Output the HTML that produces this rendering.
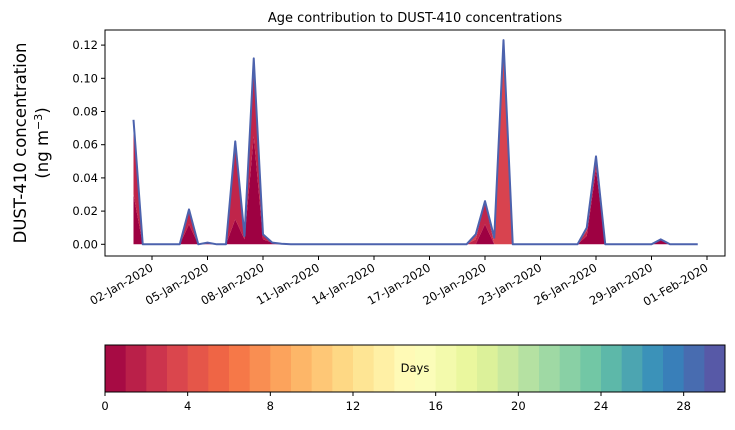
<!DOCTYPE html>
<html><head><meta charset="utf-8"><style>
body{margin:0;background:#fff;}
svg text{font-family:"DejaVu Sans","Liberation Sans",sans-serif;fill:#000;}
</style></head><body>
<svg id="chart" width="735" height="425" xmlns="http://www.w3.org/2000/svg">
<text x="415" y="22" font-size="13" text-anchor="middle">Age contribution to DUST-410 concentrations</text>
<text transform="translate(26,143) rotate(-90)" font-size="16.5" text-anchor="middle">DUST-410 concentration</text>
<text transform="translate(48,143) rotate(-90)" font-size="16.5" text-anchor="middle">(ng m<tspan dy="-6" font-size="11">−3</tspan><tspan dy="6">)</tspan></text>
<g id="plot"></g>
<g id="cbar"></g>
</svg>
<script>
// data: 12-hourly from 01-Jan-2020 00:00 (index i => day i*0.5)
const N = 62;
const age0Idx = [0,6,8,11,12,13,14,15,16,38,49,50,57];
const age0Val = [0.03,0.012,0.001,0.015,0.003,0.065,0.003,0.001,0.0003,0.012,0.005,0.045,0.003];
const age1Idx = [0,6,11,12,13,14,37,38,49,50];
const age1Val = [0.045,0.009,0.047,0.002,0.047,0.003,0.003,0.014,0.003,0.008];
const age2Idx = [37,39,40,49];
const age2Val = [0.003,0.004,0.123,0.002];
const yTicks = [0,0.02,0.04,0.06,0.08,0.10,0.12];
const yTickLabels = ["0.00","0.02","0.04","0.06","0.08","0.10","0.12"];
const xTickDays = [1,4,7,10,13,16,19,22,25,28,31];
const xTickLabels = ["02-Jan-2020","05-Jan-2020","08-Jan-2020","11-Jan-2020","14-Jan-2020","17-Jan-2020","20-Jan-2020","23-Jan-2020","26-Jan-2020","29-Jan-2020","01-Feb-2020"];
const cbTicks = [0,4,8,12,16,20,24,28];

const NS="http://www.w3.org/2000/svg";
const L=105,R=725,T=30,B=256;
const xS=d=>133.5+18.5*d;
const yS=v=>244.3-v*(244.3-45.1)/0.12;
function mk(tag,attrs,parent){const e=document.createElementNS(NS,tag);for(const k in attrs)e.setAttribute(k,attrs[k]);parent.appendChild(e);return e;}
const plot=document.getElementById('plot');
function series(idx,val){const a=new Array(N).fill(0);idx.forEach((k,j)=>a[k]=val[j]);return a;}
const layers=[series(age0Idx,age0Val),series(age1Idx,age1Val),series(age2Idx,age2Val)];
const colors=["#9e0142","#c0254a","#d8434f"];
let base=new Array(N).fill(0);
layers.forEach((ly,li)=>{
  const top=base.map((b,i)=>b+ly[i]);
  let d="";
  for(let i=0;i<N;i++)d+=(i?"L":"M")+xS(i*0.5)+","+yS(top[i]);
  for(let i=N-1;i>=0;i--)d+="L"+xS(i*0.5)+","+yS(base[i]);
  const p=mk('path',{d:d+"Z",fill:colors[li],stroke:"none"},plot);
  
  
  base=top;
});
let ld="";
for(let i=0;i<N;i++)ld+=(i?"L":"M")+xS(i*0.5)+","+yS(base[i]);
const line=mk('path',{d:ld,fill:"none",stroke:"#4c62ad","stroke-width":2,"stroke-linejoin":"round"},plot);


const frame=mk('rect',{x:L,y:T,width:R-L,height:B-T,fill:"none",stroke:"#000","stroke-width":1},plot);


yTicks.forEach((v,k)=>{
  const y=yS(v);
  mk('line',{x1:L-4,x2:L,y1:y,y2:y,stroke:"#000"},plot);
  const t=mk('text',{x:L-7,y:y+4,"font-size":11.5,"text-anchor":"end"},plot);
  t.textContent=yTickLabels[k];
  
  
});
xTickDays.forEach((d,k)=>{
  const x=xS(d);
  mk('line',{x1:x,x2:x,y1:B,y2:B+4,stroke:"#000"},plot);
  const t=mk('text',{transform:`translate(${x+2},${B+14}) rotate(-30)`,"font-size":11.5,"text-anchor":"end"},plot);
  t.textContent=xTickLabels[k];
  
  
});
// colorbar
const cb=document.getElementById('cbar');
const sp=["#9e0142","#d53e4f","#f46d43","#fdae61","#fee08b","#ffffbf","#e6f598","#abdda4","#66c2a5","#3288bd","#5e4fa2"];
function hex(h){return[1,3,5].map(i=>parseInt(h.substr(i,2),16));}
function cmap(f){const p=f*10,i=Math.min(9,Math.floor(p)),r=p-i;const a=hex(sp[i]),b=hex(sp[i+1]);return"rgb("+a.map((v,j)=>Math.round(v+(b[j]-v)*r)).join(",")+")";}
const cL=105,cR=725,cT=345,cB=392,cw=(cR-cL)/30;
for(let i=0;i<30;i++){
  const r=mk('rect',{x:cL+i*cw,y:cT,width:cw+0.5,height:cB-cT,fill:cmap((i+0.5)/30)},cb);
  
  
}
const cf=mk('rect',{x:cL,y:cT,width:cR-cL,height:cB-cT,fill:"none",stroke:"#000"},cb);


const dl=mk('text',{x:415,y:372,"font-size":11.5,"text-anchor":"middle"},cb);
dl.textContent="Days";


cbTicks.forEach(v=>{
  const x=cL+v*cw;
  mk('line',{x1:x,x2:x,y1:cB,y2:cB+4,stroke:"#000"},cb);
  const t=mk('text',{x:x,y:cB+18,"font-size":11.5,"text-anchor":"middle"},cb);
  t.textContent=String(v);
  
  
});
</script>
</body></html>
